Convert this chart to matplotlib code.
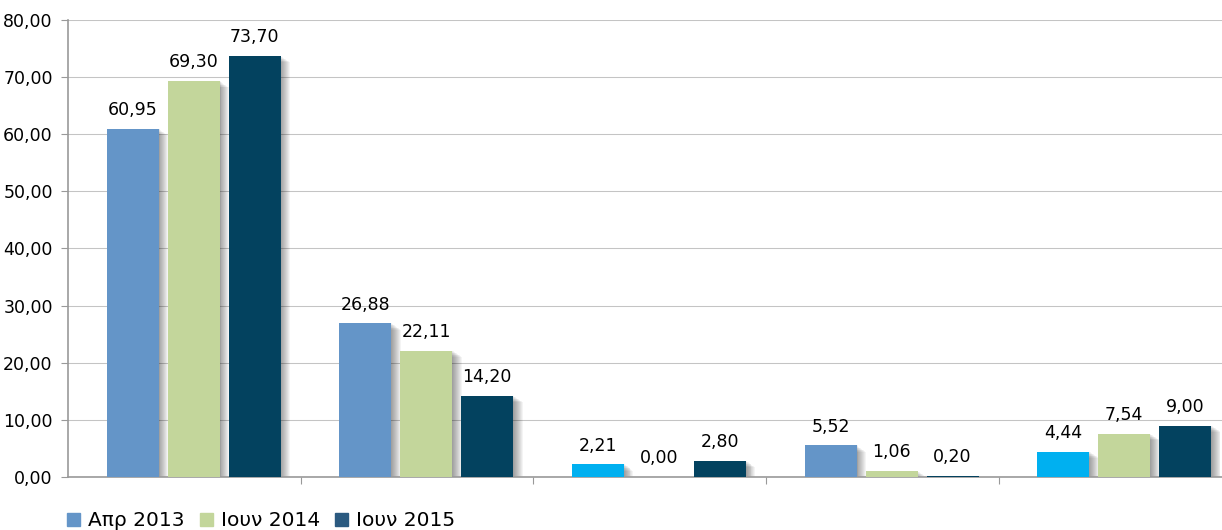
import numpy as np
import matplotlib.pyplot as plt
from matplotlib.patches import Patch

plt.rcParams['font.family'] = ['DejaVu Sans']

series = ['Απρ 2013', 'Ιουν 2014', 'Ιουν 2015']
apr_2013 = [60.95, 26.88, 2.21, 5.52, 4.44]
iun_2014 = [69.30, 22.11, 0.00, 1.06, 7.54]
iun_2015 = [73.70, 14.20, 2.80, 0.20, 9.00]
values = [apr_2013, iun_2014, iun_2015]

colors = ['#6495C8', '#C3D69B', '#03425F']
# the first series uses a lighter cyan in groups 3 and 5
first_colors = ['#6495C8', '#6495C8', '#00B0F0', '#6495C8', '#00B0F0']
legend_colors = ['#6495C8', '#C3D69B', '#2B5A80']

fig = plt.figure(figsize=(12.22, 5.30), dpi=100)
ax = fig.add_axes([68 / 1222, 0.10, 1154 / 1222, 0.8623])

x = np.arange(len(apr_2013)) + 0.04
width = 0.223
offsets = [-0.262, 0.0, 0.262]

for i, vals in enumerate(values):
    xs = x + offsets[i]
    v = np.array(vals)
    # soft shadow fading out to the right of each bar
    for k in range(10):
        ax.bar(xs + 0.004 * (k + 1), v - 0.12 * k, width,
               color='black', alpha=0.045, zorder=2, linewidth=0)
    col = first_colors if i == 0 else colors[i]
    bars = ax.bar(xs, vals, width, color=col, zorder=3, linewidth=0)
    for b, val in zip(bars, vals):
        ax.text(b.get_x() + b.get_width() / 2, val + 1.7,
                ('%.2f' % val).replace('.', ','), ha='center', va='bottom',
                fontsize=12.5, zorder=5)

ax.set_xlim(-0.5, 4.46)
ax.set_ylim(0, 80)
ax.set_yticks(np.arange(0, 81, 10))
ax.set_yticklabels([('%.2f' % t).replace('.', ',') for t in np.arange(0, 81, 10)],
                   fontsize=12.5)
ax.set_xticks(np.arange(0.5, 4.4, 1))
ax.set_xticklabels([])
ax.yaxis.grid(True, color='#C4C4C4', linewidth=0.75, zorder=0)
ax.set_axisbelow(True)

ax.spines['top'].set_color('none')
ax.spines['right'].set_color('none')
ax.spines['left'].set_color('#999999')
ax.spines['bottom'].set_color('#999999')
ax.spines['left'].set_linewidth(1.2)
ax.spines['bottom'].set_linewidth(1.2)
ax.tick_params(axis='y', length=5, color='#999999', pad=6)
ax.tick_params(axis='x', length=5, color='#999999')

handles = [Patch(color=c, label=s) for c, s in zip(legend_colors, series)]
fig.legend(handles=handles, loc='lower left', bbox_to_anchor=(0.040, -0.035),
           ncol=3, frameon=False, fontsize=14.5, handlelength=0.65,
           handleheight=0.65, handletextpad=0.4, columnspacing=0.75)

fig.savefig('out.png', dpi=100)
